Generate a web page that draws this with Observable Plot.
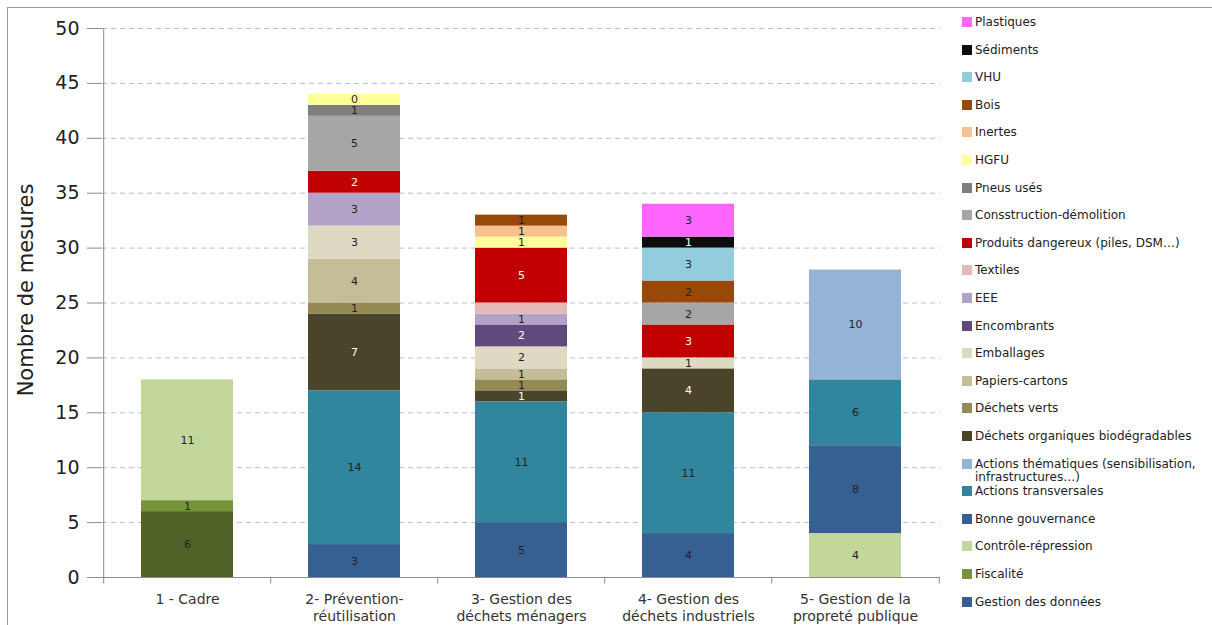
<!DOCTYPE html>
<html>
<head>
<meta charset="utf-8">
<script src="https://cdn.jsdelivr.net/npm/d3@7"></script>
<script src="https://cdn.jsdelivr.net/npm/@observablehq/plot@0.6"></script>
<style>
  html, body { margin: 0; padding: 0; background: #fff; overflow: hidden; }
  #wrap { position: relative; width: 1212px; height: 625px; font-family: "DejaVu Sans", sans-serif; }
  #frame { position: absolute; left: 7px; top: 7px; width: 1220px; height: 640px; border: 1px solid #9a9a9a; box-sizing: border-box; }
  #chart { position: absolute; left: 0; top: 0; }
  #ylabel { position: absolute; left: 26px; top: 290px; transform: translate(-50%, -50%) rotate(-90deg); font-size: 21px; color: #222; white-space: nowrap; }
  .leg { position: absolute; left: 962px; font-size: 12px; color: #222; display: flex; align-items: flex-start; line-height: 13px; }
  .leg .sw { width: 10px; height: 10px; margin-right: 3px; margin-top: 1px; flex: none; }
  .leg .tx { width: 230px; }
</style>
</head>
<body>
<div id="wrap">
  <div id="frame"></div>
  <div id="chart"></div>
  <div id="ylabel">Nombre de mesures</div>
  <div id="legend"></div>
</div>
<script>
const categories = ["1 - Cadre", "2- Prévention-réutilisation", "3- Gestion des déchets ménagers", "4- Gestion des déchets industriels", "5- Gestion de la propreté publique"];
const categoryTickLabels = ["1 - Cadre", "2- Prévention-\nréutilisation", "3- Gestion des\ndéchets ménagers", "4- Gestion des\ndéchets industriels", "5- Gestion de la\npropreté publique"];
const yTicks = [0, 5, 10, 15, 20, 25, 30, 35, 40, 45, 50];

// series in stacking order (bottom to top)
const seriesNames = ["Cadre", "Gestion des données", "Fiscalité", "Contrôle-répression", "Bonne gouvernance", "Actions transversales", "Actions thématiques  (sensibilisation, infrastructures…)", "Déchets organiques biodégradables", "Déchets verts", "Papiers-cartons", "Emballages", "Encombrants", "EEE", "Textiles", "Produits dangereux  (piles, DSM…)", "Consstruction-démolition", "Pneus usés", "HGFU", "Inertes", "Bois", "VHU", "Sédiments", "Plastiques"];
const seriesColors = ["#4F6228", "#376092", "#77933C", "#C3D69B", "#376092", "#31859C", "#95B3D7", "#4A452A", "#948A54", "#C4BD97", "#DDD9C3", "#604A7B", "#B3A2C7", "#E6B9B8", "#C00000", "#A6A6A6", "#7F7F7F", "#FFFF99", "#FAC090", "#984807", "#93CDDD", "#0D0D0D", "#FF66FF"];
const inLegend = seriesNames.filter(s => s !== "Cadre");

const vCadre          = [6, 0, 0, 0, 0];
const vGestion        = [0, 0, 0, 0, 0];
const vFiscalite      = [1, 0, 0, 0, 0];
const vControle       = [11, 0, 0, 0, 4];
const vGouvernance    = [0, 3, 5, 4, 8];
const vTransversales  = [0, 14, 11, 11, 6];
const vThematiques    = [0, 0, 0, 0, 10];
const vOrganiques     = [0, 7, 1, 4, 0];
const vVerts          = [0, 1, 1, 0, 0];
const vPapiers        = [0, 4, 1, 0, 0];
const vEmballages     = [0, 3, 2, 1, 0];
const vEncombrants    = [0, 0, 2, 0, 0];
const vEEE            = [0, 3, 1, 0, 0];
const vTextiles       = [0, 0, 1, 0, 0];
const vDangereux      = [0, 2, 5, 3, 0];
const vConstruction   = [0, 5, 0, 2, 0];
const vPneus          = [0, 1, 0, 0, 0];
const vHGFU           = [0, 1, 1, 0, 0];
const vInertes        = [0, 0, 1, 0, 0];
const vBois           = [0, 0, 1, 2, 0];
const vVHU            = [0, 0, 0, 3, 0];
const vSediments      = [0, 0, 0, 1, 0];
const vPlastiques     = [0, 0, 0, 3, 0];
const seriesValues = [vCadre, vGestion, vFiscalite, vControle, vGouvernance, vTransversales, vThematiques, vOrganiques, vVerts, vPapiers, vEmballages, vEncombrants, vEEE, vTextiles, vDangereux, vConstruction, vPneus, vHGFU, vInertes, vBois, vVHU, vSediments, vPlastiques];

// label texts as printed in the original (where they differ from the value)
const labelOverrides = [
  {cat: "2- Prévention-réutilisation", series: "HGFU", text: "0"},
  {cat: "3- Gestion des déchets ménagers", series: "Textiles", text: ""}
];
const whiteLabelSeries = ["Déchets organiques biodégradables", "Produits dangereux  (piles, DSM…)", "Encombrants", "Sédiments"];

const data = [];
seriesNames.forEach((s, si) => {
  categories.forEach((c, ci) => {
    const v = seriesValues[si][ci];
    if (v > 0) {
      const o = labelOverrides.find(d => d.cat === c && d.series === s);
      data.push({cat: c, series: s, value: v, label: o ? o.text : String(v)});
    }
  });
});

const W = 1212, H = 625, mL = 102, mR = 272, mT = 28, mB = 48;
const bw = (W - mL - mR) / categories.length;
const tickMap = new Map(categories.map((c, i) => [c, categoryTickLabels[i]]));

const chart = Plot.plot({
  width: W, height: H,
  marginLeft: mL, marginRight: mR, marginTop: mT, marginBottom: mB,
  style: {fontFamily: "DejaVu Sans, sans-serif", background: "transparent", color: "#222"},
  x: {domain: categories, paddingInner: 0.45, paddingOuter: 0.225, label: null},
  y: {domain: [0, 50], label: null},
  color: {domain: seriesNames, range: seriesColors},
  marks: [
    Plot.ruleY(yTicks.filter(t => t > 0), {stroke: "#B4BED4", strokeDasharray: "5,4", strokeWidth: 1}),
    Plot.barY(data, Plot.stackY({x: "cat", y: "value", z: "series", fill: "series", order: seriesNames})),
    Plot.text(data, Plot.stackY({x: "cat", y: "value", z: "series", order: seriesNames, text: "label",
      fill: d => whiteLabelSeries.includes(d.series) ? "#fff" : "#222", fontSize: 11})),
    Plot.ruleY([0], {stroke: "#8c8c8c"}),
    Plot.ruleX(categories, {x: d => d, dx: -bw / 2, y1: 0, y2: -0.6, stroke: "#8c8c8c"}),
    Plot.ruleX([categories[categories.length - 1]], {x: d => d, dx: bw / 2, y1: 0, y2: -0.6, stroke: "#8c8c8c"}),
    Plot.ruleX([categories[0]], {x: d => d, dx: -bw / 2, y1: 0, y2: 50, stroke: "#8c8c8c"}),
    Plot.axisY({ticks: yTicks, tickSize: 15, tickPadding: 8, fontSize: 19, stroke: "#8c8c8c", color: "#222", label: null}),
    Plot.axisX({tickSize: 0, tickPadding: 14, fontSize: 14, lineHeight: 1.25, tickFormat: d => tickMap.get(d), label: null, fill: "#333"})
  ]
});
document.getElementById("chart").appendChild(chart);

// legend (reverse stacking order, as in the original)
const legend = document.getElementById("legend");
const legendItems = inLegend.slice().reverse();
legendItems.forEach((s, i) => {
  const div = document.createElement("div");
  div.className = "leg";
  div.style.top = (16 + i * 27.6) + "px";
  const sw = document.createElement("div");
  sw.className = "sw";
  sw.style.background = seriesColors[seriesNames.indexOf(s)];
  const tx = document.createElement("div");
  tx.className = "tx";
  tx.textContent = s;
  div.appendChild(sw); div.appendChild(tx);
  legend.appendChild(div);
});
</script>
</body>
</html>
